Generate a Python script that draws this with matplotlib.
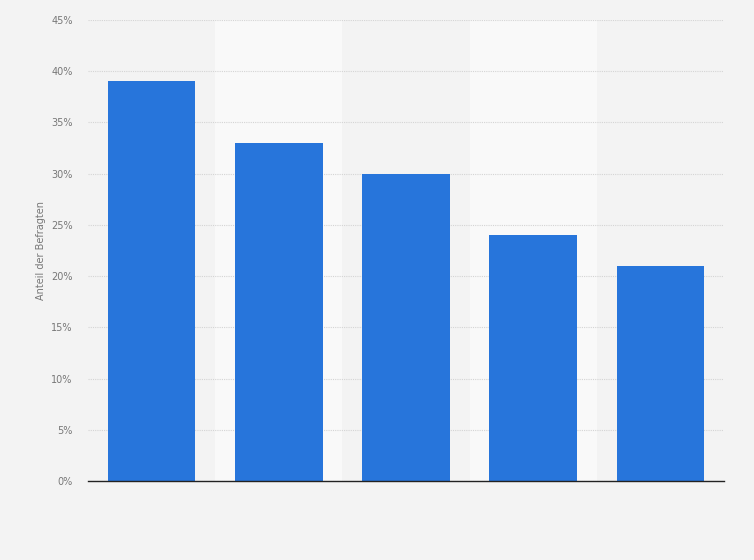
import matplotlib.pyplot as plt
import numpy as np

# values (no category labels shown)
categories = ['A', 'B', 'C', 'D', 'E']
values = [39, 33, 30, 24, 21]
yticks = [0, 5, 10, 15, 20, 25, 30, 35, 40, 45]

bg = '#f3f3f3'
fig = plt.figure(figsize=(7.54, 5.6), dpi=100, facecolor=bg)
ax = fig.add_axes([0.1167, 0.1411, 0.8435, 0.8232])
ax.set_facecolor(bg)

x = np.arange(len(categories))
# alternating lighter bands behind every second bar
for i in x:
    if i % 2 == 1:
        ax.axvspan(i - 0.5, i + 0.5, color='#f9f9f9', zorder=0, lw=0)

ax.bar(x, values, width=0.69, color='#2775db', zorder=3)

ax.set_xlim(-0.5, len(categories) - 0.5)
ax.set_ylim(0, 45)
ax.set_yticks(yticks)
ax.set_yticklabels([f'{t}%' for t in yticks], color='#777777', fontsize=7)
ax.set_xticks([])
ax.tick_params(axis='y', length=0, pad=11)
ax.grid(axis='y', color='#d4d4d4', linestyle=(0, (1, 1)), linewidth=0.8, zorder=1)
for s in ['top', 'right', 'left']:
    ax.spines[s].set_visible(False)
ax.spines['bottom'].set_color('#222222')
ax.spines['bottom'].set_linewidth(1.0)
ax.spines['bottom'].set_zorder(4)

ax.set_ylabel('Anteil der Befragten', fontsize=7, color='#777777', labelpad=4)

fig.savefig('out.png', dpi=100, facecolor=bg)
